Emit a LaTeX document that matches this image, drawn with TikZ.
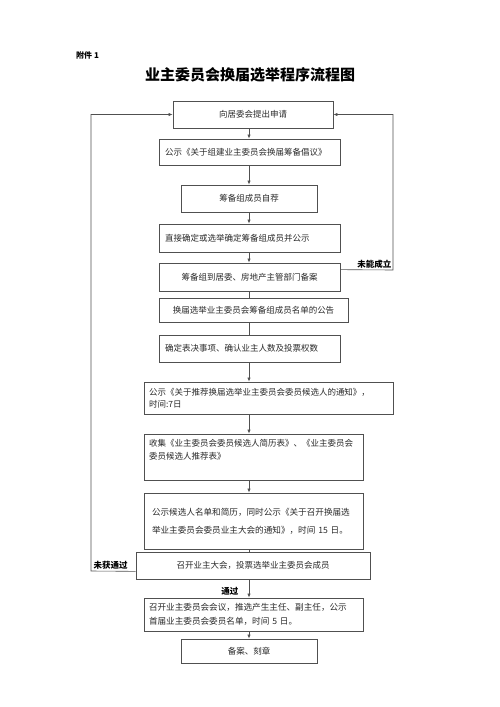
\documentclass[tikz,border=0pt]{standalone}
\usepackage{fontspec}
\setmainfont{Noto Sans CJK SC}
\usetikzlibrary{arrows.meta,calc}
\definecolor{linec}{HTML}{505050}
\definecolor{txtc}{HTML}{2A2A2A}
\begin{document}
\begin{tikzpicture}[x=1pt,y=-1pt,
  box/.style={draw=linec,line width=0.7pt,rectangle,inner ysep=0pt,text=txtc,
    font=\fontsize{8.5}{11}\selectfont},
  txt/.style={inner sep=0pt,text=txtc,align=left},
  arr/.style={draw=linec,line width=0.6pt,-{Latex[length=4pt,width=3.2pt]}},
  ln/.style={draw=linec,line width=0.6pt},
  lab/.style={inner sep=0.5pt,text=black,font=\fontsize{8.5}{10}\selectfont\bfseries}]
\fill[white] (0,0) rectangle (500,707);
\useasboundingbox (0,0) rectangle (500,707);
\coordinate (axis) at (249,0);
% header
\node[anchor=west,inner sep=0pt,font=\fontsize{8}{10}\selectfont\bfseries] (att) at (76,55) {附件 1};
\node[inner sep=0pt,font=\fontsize{15}{18}\selectfont\bfseries] (title) at (250,75) {业主委员会换届选举程序流程图};
% boxes
\node[box,minimum width=160pt,minimum height=27pt,text width=150pt,inner xsep=5pt,align=center] (b1) at (253,114.5) {向居委会提出申请};
\node[box,minimum width=181pt,minimum height=26pt,text width=169pt,inner xsep=6pt,align=left] (b2) at (249.5,152) {公示《关于组建业主委员会换届筹备倡议》};
\node[box,minimum width=136pt,minimum height=27pt,text width=126pt,inner xsep=5pt,align=center] (b3) at (249,198.5) {筹备组成员自荐};
\node[box,minimum width=181pt,minimum height=28pt,text width=169pt,inner xsep=6pt,align=left] (b4) at (249.5,238) {直接确定或选举确定筹备组成员并公示};
\node[box,minimum width=181pt,minimum height=28pt,text width=171pt,inner xsep=5pt,align=center] (b5) at (249.5,277) {筹备组到居委、房地产主管部门备案};
\node[box,minimum width=189pt,minimum height=24pt,text width=179pt,inner xsep=5pt,align=center] (b6) at (253.5,310) {换届选举业主委员会筹备组成员名单的公告};
\node[box,minimum width=181pt,minimum height=27pt,text width=169pt,inner xsep=6pt,align=left] (b7) at (249.5,348.5) {确定表决事项、确认业主人数及投票权数};
\node[box,minimum width=249pt,minimum height=32pt,text width=239pt,inner xsep=5pt,align=left,
  font=\fontsize{8.5}{12}\selectfont] (b8) at (268.5,398) {公示《关于推荐换届选举业主委员会委员候选人的通知》，\\时间:7日};
\node[box,minimum width=219pt,minimum height=46pt] (b9) at (253.5,457) {};
\node[txt,anchor=north west,font=\fontsize{8.5}{13}\selectfont] (t9) at (149,439.5) {收集《业主委员会委员候选人简历表》、《业主委员会\\委员候选人推荐表》};
\node[box,minimum width=219pt,minimum height=56pt,text width=203pt,inner xsep=8pt,align=left,
  font=\fontsize{8.6}{18}\selectfont] (b10) at (253.5,521) {公示候选人名单和简历，同时公示《关于召开换届选\\举业主委员会委员业主大会的通知》，时间 15 日。};
\node[box,minimum width=234pt,minimum height=27pt,text width=224pt,inner xsep=5pt,align=center] (b11) at (253,565.5) {召开业主大会，投票选举业主委员会成员};
\node[box,minimum width=219pt,minimum height=33pt,text width=209pt,inner xsep=5pt,align=left,
  font=\fontsize{8.6}{14}\selectfont] (b12) at (253.5,614.5) {召开业主委员会会议，推选产生主任、副主任，公示\\首届业主委员会委员名单，时间 5 日。};
\node[box,minimum width=136pt,minimum height=24pt,text width=126pt,inner xsep=5pt,align=center] (b13) at (249,651) {备案、刻章};
% connectors
\draw[arr] (b1.south -| axis) -- (b2.north -| axis);
\draw[arr] (b2.south -| axis) -- (b3.north -| axis);
\draw[arr] (b3.south -| axis) -- (b4.north -| axis);
\draw[arr] (b4.south -| axis) -- (b5.north -| axis);
\draw[ln] (b5.south -| axis) -- (b6.north -| axis);
\draw[ln] (b6.south -| axis) -- (b7.north -| axis);
\draw[arr] (b7.south -| axis) -- (b8.north -| axis);
\draw[arr] (b8.south -| axis) -- (b9.north -| axis);
\draw[arr] (b9.south -| axis) -- (b10.north -| axis);
\draw[ln] (b10.south -| axis) -- (b11.north -| axis);
\draw[arr] (b11.south -| axis) -- (b12.north -| axis);
\draw[arr] (b12.south -| axis) -- (b13.north -| axis);
\node[lab,anchor=south east] (pass) at (239,596) {通过};
% loops
\coordinate (r1) at (393,270);
\coordinate (l1) at (91,571);
\draw[arr] ($(b5.north east)+(0,7)$) -- (r1) |- (b1.east);
\draw[arr] ($(b11.south west)+(0,-8)$) -- (l1) |- (b1.west);
\node[lab,anchor=south east] (fail1) at (392,269) {未能成立};
\node[lab,anchor=south west] (fail2) at (93,570) {未获通过};
\end{tikzpicture}
\end{document}
